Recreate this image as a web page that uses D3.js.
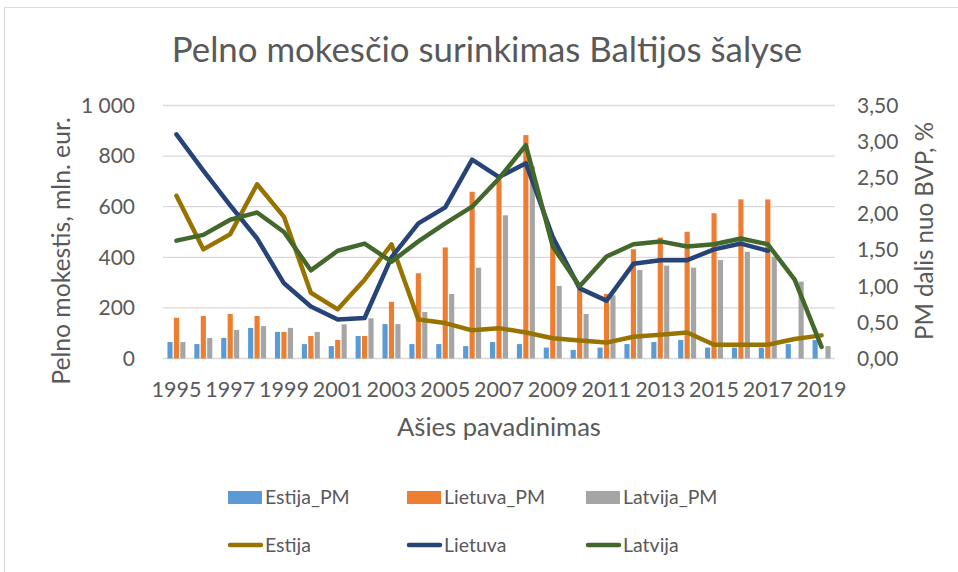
<!DOCTYPE html>
<html>
<head>
<meta charset="utf-8">
<script src="https://cdn.jsdelivr.net/npm/d3@7"></script>
<style>
  body { margin: 0; background: #fff; }
  text { font-family: Lato, "Open Sans", sans-serif; fill: #595959; }
</style>
</head>
<body>
<svg id="chart" width="958" height="572"></svg>
<script>
// years on the x axis
const years = d3.range(1995, 2020).map(String);
const tickYears = years.filter((y, i) => i % 2 === 0);

// income tax collected, mln. eur (bars, left axis)
const estijaPM  = [65, 57, 81, 121, 105, 57, 49, 89, 136, 57, 57, 49, 65, 57, 43, 34, 43, 57, 65, 73, 43, 43, 43, 57, 73];
const lietuvaPM = [161, 168, 176, 168, 105, 89, 73, 89, 224, 337, 439, 659, 705, 883, 481, 273, 255, 432, 478, 501, 574, 629, 629, 0, 0];
const latvijaPM = [65, 81, 113, 128, 121, 105, 135, 159, 136, 184, 255, 359, 566, 760, 287, 176, 250, 350, 367, 359, 389, 422, 402, 304, 49];

// share of GDP, % (lines, right axis)
const estija  = [2.25, 1.51, 1.72, 2.41, 1.96, 0.91, 0.68, 1.09, 1.58, 0.54, 0.49, 0.39, 0.42, 0.36, 0.28, 0.25, 0.22, 0.30, 0.33, 0.36, 0.19, 0.19, 0.19, 0.27, 0.32];
const lietuva = [3.10, 2.60, 2.12, 1.66, 1.04, 0.72, 0.54, 0.56, 1.40, 1.87, 2.09, 2.75, 2.51, 2.70, 1.68, 0.97, 0.80, 1.31, 1.36, 1.36, 1.51, 1.59, 1.49, null, null];
const latvija = [1.63, 1.71, 1.92, 2.02, 1.75, 1.22, 1.49, 1.59, 1.34, 1.62, 1.87, 2.10, 2.49, 2.95, 1.55, 1.00, 1.41, 1.58, 1.62, 1.55, 1.58, 1.66, 1.58, 1.09, 0.16];

const leftTicks = [0, 200, 400, 600, 800, 1000];
const rightTicks = [0, 0.5, 1, 1.5, 2, 2.5, 3, 3.5];

const barSeries = [
  {name: "Estija_PM", values: estijaPM, color: "#5B9BD5"},
  {name: "Lietuva_PM", values: lietuvaPM, color: "#ED7D31"},
  {name: "Latvija_PM", values: latvijaPM, color: "#A5A5A5"}
];
const lineSeries = [
  {name: "Estija", values: estija, color: "#997300"},
  {name: "Lietuva", values: lietuva, color: "#264478"},
  {name: "Latvija", values: latvija, color: "#43682B"}
];

const svg = d3.select("#chart");

// chart frame (only top/left visible in the screenshot)
svg.append("rect")
  .attr("x", 4.5).attr("y", 7.5)
  .attr("width", 980).attr("height", 600)
  .attr("fill", "none").attr("stroke", "#D9D9D9");

const plot = {left: 163, right: 835, top: 105.5, bottom: 358.5};

const x = d3.scaleBand().domain(years).range([plot.left, plot.right]);
const x1 = d3.scaleBand().domain(barSeries.map(s => s.name)).range([-9, 9]).paddingInner(0.2);
const yLeft = d3.scaleLinear().domain([0, 1000]).range([plot.bottom, plot.top]);
const yRight = d3.scaleLinear().domain([0, 3.5]).range([plot.bottom, plot.top]);

const lt = d3.formatLocale({decimal: ",", thousands: " ", grouping: [3], currency: ["", ""]});
const fmtLeft = lt.format(",d");
const fmtRight = lt.format(".2f");

// stretch a text's font size so it covers a given length
function fitText(sel, base, len) {
  const w = sel.node().getComputedTextLength();
  sel.style("font-size", (base * len / w).toFixed(1) + "px");
}

// gridlines
svg.append("g")
  .selectAll("line")
  .data(leftTicks)
  .join("line")
  .attr("x1", plot.left).attr("x2", plot.right)
  .attr("y1", d => yLeft(d)).attr("y2", d => yLeft(d))
  .attr("stroke", "#D9D9D9").attr("stroke-width", 1.3);

// bars
barSeries.forEach(s => {
  svg.append("g")
    .selectAll("rect")
    .data(years.map((yr, i) => ({yr: yr, v: s.values[i]})))
    .join("rect")
    .attr("x", d => x(d.yr) + x.bandwidth() / 2 + x1(s.name))
    .attr("width", x1.bandwidth())
    .attr("y", d => yLeft(d.v))
    .attr("height", d => yLeft(0) - yLeft(d.v))
    .attr("fill", s.color);
});

// lines
lineSeries.forEach(s => {
  const line = d3.line()
    .defined(d => d.v !== null)
    .x(d => x(d.yr) + x.bandwidth() / 2)
    .y(d => yRight(d.v));
  svg.append("path")
    .datum(years.map((yr, i) => ({yr: yr, v: s.values[i]})))
    .attr("d", line)
    .attr("fill", "none")
    .attr("stroke", s.color)
    .attr("stroke-width", 4.5)
    .attr("stroke-linejoin", "round")
    .attr("stroke-linecap", "round");
});

// left axis labels
svg.append("g")
  .selectAll("text")
  .data(leftTicks)
  .join("text")
  .attr("x", 135).attr("y", d => yLeft(d))
  .attr("dy", "0.35em")
  .attr("text-anchor", "end")
  .style("font-size", "21px")
  .text(d => fmtLeft(d));

// right axis labels
svg.append("g")
  .selectAll("text")
  .data(rightTicks)
  .join("text")
  .attr("x", 857).attr("y", d => yRight(d))
  .attr("dy", "0.35em")
  .style("font-size", "21px")
  .text(d => fmtRight(d));

// x labels
svg.append("g")
  .selectAll("text")
  .data(tickYears)
  .join("text")
  .attr("x", d => x(d) + x.bandwidth() / 2)
  .attr("y", 397)
  .attr("text-anchor", "middle")
  .style("font-size", "21.5px")
  .text(d => d);

// axis titles
const xTitle = svg.append("text")
  .attr("x", 499).attr("y", 436)
  .attr("text-anchor", "middle")
  .style("font-size", "20px")
  .text("Ašies pavadinimas");
fitText(xTitle, 20, 204);

const yTitle = svg.append("text")
  .attr("transform", "translate(61,251) rotate(-90)")
  .attr("text-anchor", "middle")
  .attr("dy", "0.35em")
  .style("font-size", "20px")
  .text("Pelno mokestis, mln. eur.");
fitText(yTitle, 20, 268);

const y2Title = svg.append("text")
  .attr("transform", "translate(925,231) rotate(-90)")
  .attr("text-anchor", "middle")
  .attr("dy", "0.35em")
  .style("font-size", "20px")
  .text("PM dalis nuo BVP, %");
fitText(y2Title, 20, 218);

// title, sized to span the same width as the original
const title = svg.append("text")
  .attr("x", 487).attr("y", 62)
  .attr("text-anchor", "middle")
  .style("font-size", "30px")
  .text("Pelno mokesčio surinkimas Baltijos šalyse");
fitText(title, 30, 631);

// legend
const legX = [228, 407, 586];
const leg1 = svg.append("g");
barSeries.forEach((s, i) => {
  leg1.append("rect")
    .attr("x", legX[i]).attr("y", 491)
    .attr("width", 34).attr("height", 13)
    .attr("fill", s.color);
  leg1.append("text")
    .attr("x", legX[i] + 37).attr("y", 497)
    .attr("dy", "0.35em")
    .style("font-size", "19.5px")
    .text(s.name);
});
const leg2 = svg.append("g");
lineSeries.forEach((s, i) => {
  leg2.append("line")
    .attr("x1", legX[i] + 2).attr("x2", legX[i] + 33)
    .attr("y1", 545).attr("y2", 545)
    .attr("stroke", s.color).attr("stroke-width", 4.5)
    .attr("stroke-linecap", "round");
  leg2.append("text")
    .attr("x", legX[i] + 37).attr("y", 545)
    .attr("dy", "0.35em")
    .style("font-size", "19.5px")
    .text(s.name);
});
</script>
</body>
</html>
